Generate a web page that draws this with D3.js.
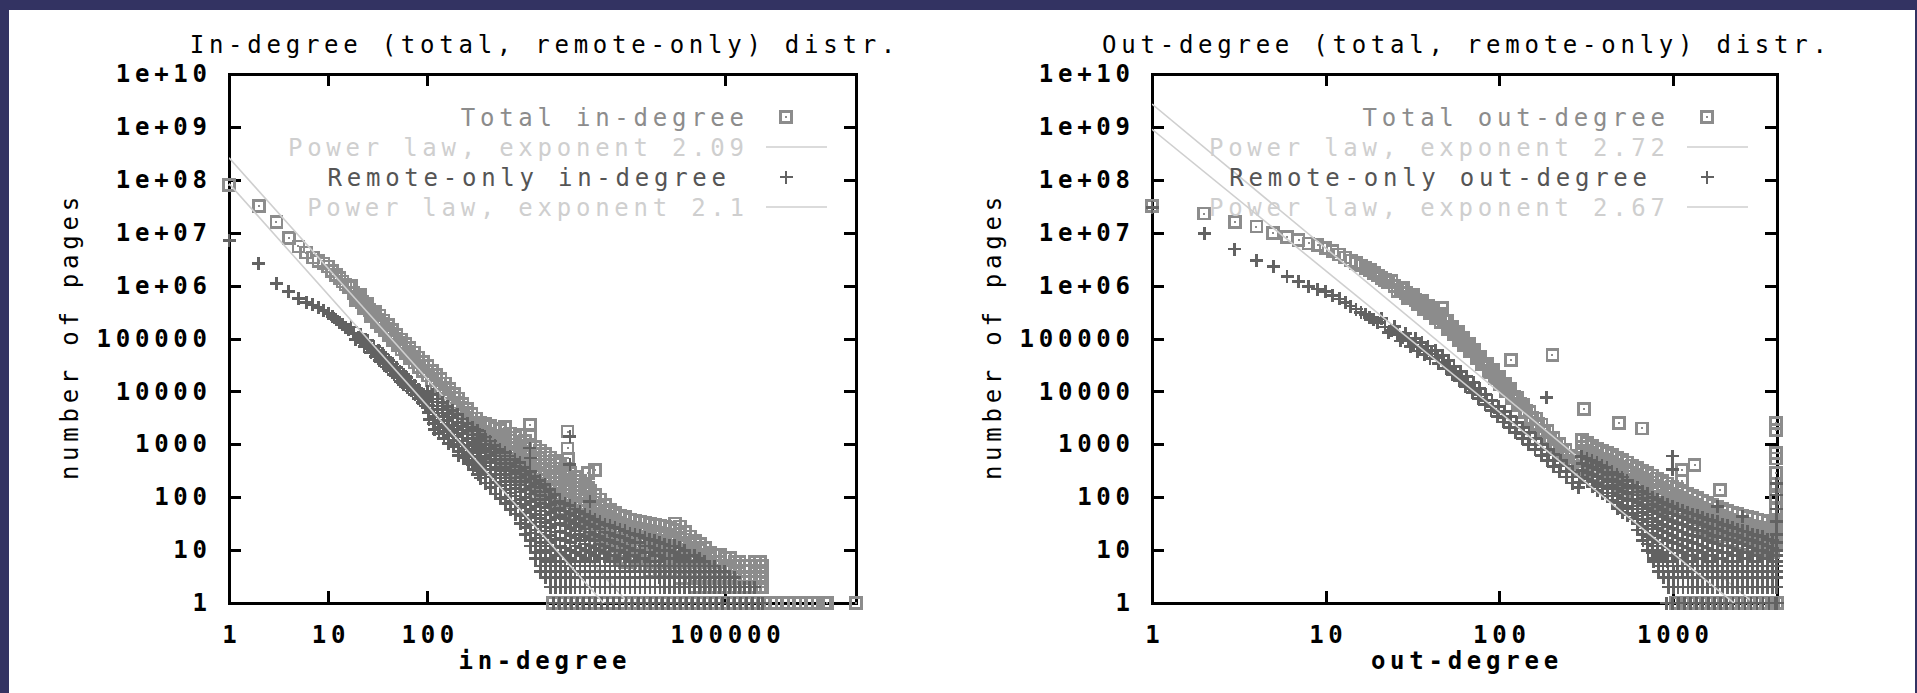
<!DOCTYPE html>
<html>
<head>
<meta charset="utf-8">
<script src="https://cdn.jsdelivr.net/npm/d3@7"></script>
<style>
  html, body { margin: 0; padding: 0; background: #333362; }
  svg { display: block; }
</style>
</head>
<body>
<svg id="chart" width="1917" height="693"></svg>
<script>
// ---------------------------------------------------------------------------
// Axis ticks
// ---------------------------------------------------------------------------
const yTickValues = [1, 10, 100, 1e3, 1e4, 1e5, 1e6, 1e7, 1e8, 1e9, 1e10];
const yTickLabels = ["1", "10", "100", "1000", "10000", "100000", "1e+06", "1e+07", "1e+08", "1e+09", "1e+10"];

const inDegreeLabelValues = [1, 10, 100, 100000];
const inDegreeLabels = ["1", "10", "100", "100000"];
const inDegreeTickMarks = [10, 100, 100000];

const outDegreeLabelValues = [1, 10, 100, 1000];
const outDegreeLabels = ["1", "10", "100", "1000"];
const outDegreeTickMarks = [10, 100, 1000];

// Data layout per series:
//   ridge / spread : [degree, pages]
//   columns        : [first degree, [pages for consecutive degrees]]
//   singles        : degrees held by exactly one page

// ---------------------------------------------------------------------------
// In-degree, total (boxes)
// ---------------------------------------------------------------------------
const inTotalRidge = [
  [1, 8.0e7], [2, 3.2e7], [3, 1.6e7], [4, 8.0e6], [5, 5.5e6], [6, 4.2e6], [7, 3.4e6],
  [8, 2.9e6], [9, 2.6e6], [10, 2.3e6], [11, 1.9e6], [12, 1.6e6], [13, 1.4e6], [14, 1.2e6],
  [15, 1.05e6], [16, 9.2e5], [18, 7.2e5], [20, 5.9e5], [22, 4.9e5], [24, 4.1e5], [26, 3.5e5],
  [29, 2.8e5], [32, 2.3e5], [35, 1.9e5], [39, 1.55e5], [43, 1.25e5], [48, 1.0e5], [53, 8.2e4],
  [59, 6.7e4], [65, 5.5e4], [72, 4.5e4], [80, 3.7e4], [89, 3.0e4], [99, 2.5e4], [110, 2.05e4],
  [122, 1.7e4], [135, 1.4e4], [150, 1.15e4], [166, 9.3e3], [184, 7.5e3], [204, 6.0e3],
  [226, 4.8e3], [250, 3.9e3], [277, 3.1e3], [307, 2.5e3]
];
const inTotalSpread = [
  [17, 1.0e6], [19, 5.3e5], [21, 6.6e5], [23, 3.7e5], [25, 4.6e5], [27, 2.6e5],
  [30, 3.2e5], [31, 2.05e5], [33, 2.7e5], [34, 1.7e5], [36, 2.2e5], [37, 1.43e5], [40, 1.8e5],
  [41, 1.15e5], [44, 1.46e5], [45, 9.4e4], [49, 1.17e5], [50, 7.5e4], [54, 9.6e4], [55, 6.2e4],
  [60, 7.9e4], [61, 5.2e4], [66, 6.6e4], [67, 4.3e4], [73, 5.4e4], [74, 3.5e4], [81, 4.4e4],
  [82, 2.9e4], [90, 3.6e4], [91, 2.4e4], [100, 3.0e4], [101, 2.0e4], [111, 2.45e4], [112, 1.6e4],
  [123, 2.05e4], [124, 1.35e4], [136, 1.7e4], [137, 1.1e4], [151, 1.4e4], [152, 9.2e3],
  [167, 1.12e4], [168, 7.4e3], [185, 9.0e3], [186, 6.0e3], [205, 7.3e3], [206, 4.8e3],
  [227, 5.8e3], [228, 3.9e3], [251, 4.7e3], [252, 3.15e3], [278, 3.75e3], [279, 2.5e3],
  [308, 3.05e3], [309, 2.03e3]
];
const inTotalColumns = [
  [340, [2600, 1900, 1400, 1000]], [382, [2400, 1750, 1280, 940]], [429, [2200, 1600, 1170, 850, 620]],
  [481, [2000, 1470, 1070, 780, 570]], [540, [1850, 1350, 990, 720, 530]],
  [607, [2100, 1500, 1100, 800, 580, 430]], [681, [1600, 1170, 850, 620, 450, 330]],
  [765, [1350, 990, 720, 530, 390, 280]], [859, [1500, 1100, 800, 580, 420, 310, 220]],
  [965, [1150, 840, 610, 450, 330, 240, 175]], [1084, [2300, 1500, 970, 630, 460, 340, 250, 180]],
  [1217, [900, 650, 480, 350, 250, 180, 130]], [1367, [760, 550, 400, 290, 210, 155, 110]],
  [1535, [650, 470, 340, 250, 180, 130, 95]], [1724, [560, 410, 300, 220, 160, 115, 85]],
  [1936, [480, 350, 250, 185, 135, 100, 72]], [2174, [420, 300, 220, 160, 115, 85, 60]],
  [2441, [340, 250, 180, 130, 95, 70, 50]], [2600, [1740, 840, 540, 245, 137]],
  [2742, [290, 210, 150, 110, 80, 58, 42]], [3079, [240, 175, 125, 90, 66, 48, 35]],
  [3458, [200, 145, 105, 75, 55, 40, 29]], [3883, [165, 120, 88, 64, 46, 34, 25]],
  [4170, [290, 150]], [4361, [135, 98, 72, 52, 38, 28, 20]], [4897, [330, 110, 80, 58, 42, 30, 22, 16]],
  [5500, [90, 65, 47, 34, 25, 18, 13]], [6176, [72, 52, 38, 28, 20, 15, 11]],
  [6936, [57, 42, 30, 22, 16, 12, 9]], [7789, [50, 37, 27, 20, 14, 10, 8]],
  [8747, [45, 33, 24, 17, 13, 9, 7]], [9823, [42, 30, 22, 16, 12, 9, 6]],
  [11030, [38, 28, 20, 15, 11, 8, 6]], [12390, [36, 26, 19, 14, 10, 7, 5]],
  [13910, [34, 25, 18, 13, 10, 7, 5]], [15620, [33, 24, 17, 13, 9, 7, 5]],
  [17540, [31, 23, 17, 12, 9, 6, 4]], [19700, [30, 22, 16, 12, 8, 6, 4]],
  [22120, [29, 21, 15, 11, 8, 6, 4]], [24840, [28, 20, 15, 11, 8, 6, 4]],
  [27900, [26, 19, 14, 10, 7, 5, 4]], [31330, [32, 24, 17, 12, 9, 6, 4]],
  [35180, [28, 20, 14, 10, 7, 5, 3]], [39510, [22, 16, 12, 9, 6, 4, 3]],
  [44370, [18, 13, 10, 7, 5, 4, 3]], [49830, [15, 11, 8, 6, 4, 3, 2]],
  [55960, [13, 10, 7, 5, 4, 3, 2]], [62840, [11, 8, 6, 4, 3, 2]], [70570, [9, 7, 5, 4, 3, 2]],
  [79250, [8, 6, 4, 3, 2]], [89000, [8, 6, 4, 3, 2]], [100000, [7, 5, 4, 3, 2]],
  [112000, [7, 5, 4, 3, 2]], [126000, [6, 5, 4, 3, 2]], [141000, [6, 4, 3, 2]],
  [159000, [5, 4, 3, 2]], [178000, [5, 4, 3, 2]], [200000, [6, 4, 3, 2]], [225000, [6, 4, 3, 2]],
  [240000, [5, 3, 2]]
];
const inTotalSingles = [
  1850, 2120, 2460, 2810, 3240, 3740, 4290, 4960, 5680, 6570, 7530, 8690, 9980, 11500, 13300,
  15200, 17600, 20100, 23200, 26500, 30700, 35100, 40600, 46500, 53800, 61400, 71100, 81300,
  93900, 107500, 124200, 142300, 164400, 188100, 217300, 248800, 287500, 329100, 380200,
  435300, 502800, 575600, 664900, 761200, 878700, 1006000, 1071000, 2100000
];

// ---------------------------------------------------------------------------
// In-degree, remote-only (crosses)
// ---------------------------------------------------------------------------
const inRemoteRidge = [
  [1, 7.0e6], [2, 2.6e6], [3, 1.1e6], [4, 7.8e5], [5, 5.8e5], [6, 4.8e5], [7, 4.3e5], [8, 3.9e5],
  [9, 3.4e5], [10, 3.0e5], [11, 2.6e5], [12, 2.3e5], [13, 2.0e5], [14, 1.8e5], [15, 1.6e5],
  [16, 1.45e5], [18, 1.25e5], [20, 1.05e5], [22, 9.0e4], [24, 8.0e4], [26, 7.0e4], [28, 6.2e4],
  [31, 5.3e4], [34, 4.6e4], [37, 3.8e4], [40, 3.3e4], [43, 2.9e4], [47, 2.5e4], [51, 2.15e4],
  [55, 1.85e4], [60, 1.6e4], [66, 1.35e4], [72, 1.13e4], [78, 9.6e3], [85, 8.1e3], [93, 6.8e3]
];
const inRemoteSpread = [
  [17, 1.65e5], [19, 9.5e4], [21, 1.2e5], [23, 7.0e4], [25, 9.1e4], [27, 5.4e4], [29, 7.0e4],
  [30, 4.5e4], [32, 6.0e4], [33, 3.9e4], [35, 5.1e4], [36, 3.4e4], [38, 4.4e4], [39, 2.9e4],
  [41, 3.8e4], [42, 2.5e4], [45, 3.3e4], [46, 2.1e4], [49, 2.8e4], [50, 1.8e4], [53, 2.4e4],
  [54, 1.55e4], [57, 2.1e4], [58, 1.35e4], [62, 1.85e4], [63, 1.2e4], [68, 1.55e4], [69, 1.02e4],
  [74, 1.3e4], [75, 8.6e3], [81, 1.1e4], [82, 7.3e3], [88, 9.3e3], [89, 6.2e3], [95, 7.8e3],
  [96, 5.3e3]
];
const inRemoteColumns = [
  [100, [1.0e4, 7.4e3, 5.4e3, 4.0e3, 2.9e3]], [112, [8.6e3, 6.3e3, 4.6e3, 3.4e3, 2.5e3, 1.9e3]],
  [126, [7.2e3, 5.3e3, 3.9e3, 2.8e3, 2.1e3, 1.6e3]], [142, [6.1e3, 4.5e3, 3.3e3, 2.4e3, 1.75e3, 1.3e3]],
  [159, [5.2e3, 3.8e3, 2.8e3, 2.0e3, 1.45e3, 1.05e3]], [178, [4.4e3, 3.2e3, 2.3e3, 1.7e3, 1.2e3, 900]],
  [200, [3.6e3, 2.6e3, 1.9e3, 1.4e3, 1.0e3, 740, 620]], [225, [3.0e3, 2.2e3, 1.6e3, 1.15e3, 840, 610, 560]],
  [252, [2.5e3, 1.8e3, 1.3e3, 960, 700, 500, 430]], [283, [2.1e3, 1.5e3, 1.1e3, 800, 580, 420, 330]],
  [318, [1.8e3, 1.3e3, 950, 690, 500, 360, 270]],
  [340, [1550, 1150, 830, 600, 440, 320, 230]], [382, [1380, 1000, 730, 530, 390, 280, 185]],
  [429, [1150, 840, 610, 450, 330, 240, 150]], [481, [950, 700, 510, 370, 270, 190, 115]],
  [540, [810, 600, 440, 320, 230, 165, 95]], [607, [690, 510, 370, 270, 195, 140, 100, 75]],
  [681, [600, 440, 320, 230, 170, 120, 85, 58]], [765, [520, 380, 280, 200, 145, 105, 75, 48]],
  [859, [450, 320, 235, 170, 125, 90, 64, 45, 32]], [965, [370, 270, 195, 140, 100, 72, 52, 37, 27, 20]],
  [1084, [850, 550, 310, 220, 160, 115, 82, 58, 42, 30, 21, 15, 12]],
  [1217, [250, 180, 130, 92, 66, 47, 34, 24, 17, 12, 9, 7]],
  [1367, [210, 150, 108, 77, 55, 40, 28, 20, 14, 10, 7, 5, 4]],
  [1535, [175, 125, 90, 64, 46, 33, 23, 17, 12, 9, 6, 4, 3]],
  [1724, [140, 100, 72, 52, 37, 27, 19, 14, 10, 7, 5, 4, 3, 2]],
  [1936, [112, 80, 58, 42, 30, 22, 16, 11, 8, 6, 4, 3, 2]],
  [2174, [85, 62, 45, 32, 23, 17, 12, 9, 6, 5, 4, 3, 2]],
  [2441, [76, 55, 40, 29, 21, 15, 11, 8, 6, 4, 3, 2]],
  [2742, [1400, 410, 70, 50, 36, 26, 19, 14, 10, 7, 5, 4, 3, 2]],
  [3079, [60, 44, 32, 23, 17, 12, 9, 6, 5, 3, 2]], [3458, [54, 39, 28, 20, 15, 11, 8, 6, 4, 3, 2]],
  [3883, [48, 35, 25, 18, 13, 10, 7, 5, 4, 3, 2]], [4361, [82, 43, 31, 22, 16, 12, 9, 6, 5, 3, 2]],
  [4897, [38, 28, 20, 15, 11, 8, 6, 4, 3, 2]], [5500, [34, 25, 18, 13, 10, 7, 5, 4, 3, 2]],
  [6176, [31, 22, 16, 12, 9, 7, 5, 4, 3, 2]], [6936, [29, 21, 15, 11, 8, 6, 5, 4, 3, 2]],
  [7789, [27, 19, 14, 10, 8, 6, 4, 3, 2]], [8747, [25, 18, 13, 10, 7, 5, 4, 3, 2]],
  [9823, [23, 17, 12, 9, 7, 5, 4, 3, 2]], [11030, [21, 15, 11, 8, 6, 5, 4, 3, 2]],
  [12390, [20, 14, 10, 8, 6, 4, 3, 2]], [13910, [19, 14, 10, 7, 5, 4, 3, 2]],
  [15620, [17, 12, 9, 7, 5, 4, 3, 2]], [17540, [16, 12, 9, 6, 5, 4, 3, 2]],
  [19700, [15, 11, 8, 6, 5, 4, 3, 2]], [22120, [14, 10, 8, 6, 4, 3, 2]],
  [24840, [13, 10, 7, 5, 4, 3, 2]], [27900, [12, 10, 7, 5, 4, 3, 2]],
  [31330, [12, 9, 7, 5, 4, 3, 2]], [35180, [11, 8, 6, 4, 3, 2]], [39510, [10, 7, 5, 4, 3, 2]],
  [44370, [8, 6, 5, 4, 3, 2]], [49830, [8, 6, 4, 3, 2]], [55960, [7, 5, 4, 3, 2]],
  [62840, [6, 5, 4, 3, 2]], [70570, [5, 4, 3, 2]], [79250, [5, 4, 3, 2]], [89000, [4, 3, 2]],
  [100000, [4, 3, 2]], [112000, [3, 2]], [126000, [3, 2]], [141000, [2]], [159000, [2]],
  [178000, [2]], [200000, [2]]
];
const inRemoteSingles = [
  1870, 2150, 2480, 2840, 3270, 3770, 4330, 4990, 5730, 6610, 7580, 8740, 10050, 11580, 13350,
  15300, 17700, 20300, 23400, 26800, 30900, 35500, 40900, 47000, 54200, 62000, 71700, 82100,
  94700, 108600, 125400, 143700, 165900, 190100, 219400, 241000
];

// ---------------------------------------------------------------------------
// Out-degree, total (boxes)
// ---------------------------------------------------------------------------
const outTotalRidge = [
  [1, 3.2e7], [2, 2.3e7], [3, 1.6e7], [4, 1.3e7], [5, 1.0e7], [6, 8.3e6], [7, 7.2e6], [8, 6.3e6],
  [9, 5.8e6], [10, 5.2e6], [11, 4.5e6], [12, 3.9e6], [13, 3.4e6], [14, 3.0e6], [15, 2.7e6],
  [16, 2.4e6], [17, 2.15e6], [18, 1.95e6], [19, 1.75e6], [20, 1.55e6], [21, 1.4e6], [22, 1.28e6],
  [23, 1.17e6], [25, 9.8e5], [27, 8.4e5], [29, 7.2e5], [31, 6.2e5], [33, 5.4e5], [35, 4.7e5],
  [38, 3.9e5], [41, 3.2e5], [44, 2.65e5], [48, 2.1e5], [52, 1.65e5], [56, 1.3e5], [60, 1.0e5],
  [65, 7.7e4], [70, 5.9e4], [76, 4.4e4], [82, 3.3e4], [89, 2.5e4], [96, 1.85e4], [104, 1.4e4],
  [113, 1.05e4], [122, 7.8e3], [132, 5.8e3], [143, 4.3e3], [155, 3.2e3], [168, 2.4e3],
  [182, 1.8e3], [197, 1.35e3], [213, 1.0e3], [231, 780], [250, 600], [271, 470], [293, 370]
];
const outTotalSpread = [
  [24, 1.23e6], [26, 7.9e5], [28, 9.0e5], [30, 5.8e5], [32, 6.7e5], [34, 4.4e5], [36, 5.1e5],
  [37, 3.6e5], [39, 4.2e5], [40, 3.0e5], [42, 3.45e5], [43, 2.45e5], [45, 2.9e5], [46, 2.05e5],
  [47, 3.8e5], [50, 2.15e5], [51, 1.53e5], [54, 1.68e5], [55, 1.2e5], [58, 1.31e5], [59, 9.3e4],
  [62, 1.04e5], [63, 7.4e4], [67, 8.1e4], [68, 5.7e4], [72, 6.1e4], [74, 4.2e4], [78, 4.6e4],
  [80, 3.2e4], [85, 3.35e4], [87, 2.35e4], [92, 2.55e4], [94, 1.8e4], [100, 1.85e4], [101, 1.36e4],
  [108, 1.4e4], [110, 1.0e4], [116, 1.1e4], [117, 3.9e4], [119, 7.6e3], [127, 7.7e3],
  [129, 5.4e3], [138, 5.6e3], [140, 4.0e3], [150, 4.1e3], [152, 3.0e3], [163, 3.05e3],
  [165, 2.2e3], [176, 2.35e3], [178, 1.7e3], [190, 1.78e3], [193, 1.26e3], [203, 4.9e4],
  [206, 1.32e3], [209, 940], [223, 1.0e3], [226, 720], [241, 780], [244, 560], [261, 610],
  [264, 445], [283, 470], [286, 345], [308, 4600]
];
const outTotalColumns = [
  [300, [1200, 880, 650, 480, 350]], [321, [1050, 770, 570, 420, 310]], [343, [920, 680, 500, 370, 270]],
  [367, [820, 600, 440, 330, 240]], [392, [740, 540, 400, 290, 215]], [419, [680, 500, 370, 270, 200]],
  [448, [620, 460, 340, 250, 180]], [479, [560, 410, 300, 220, 165]], [490, [2500]],
  [512, [500, 370, 270, 200, 150]], [547, [450, 330, 245, 180, 130]], [585, [400, 295, 215, 160, 118]],
  [625, [360, 265, 195, 145, 105]], [665, [2000]], [668, [320, 235, 175, 128, 95]],
  [714, [285, 210, 155, 115, 85]], [763, [255, 188, 138, 100, 75]], [816, [225, 165, 122, 90, 66]],
  [872, [200, 148, 108, 80, 59]], [932, [180, 132, 97, 72, 53]], [996, [160, 118, 87, 64, 47]],
  [1065, [145, 107, 79, 58, 43]], [1130, [330, 200]], [1138, [130, 96, 71, 52, 38]],
  [1217, [118, 87, 64, 47, 35]], [1300, [106, 78, 57, 42, 31]], [1340, [410]],
  [1390, [96, 71, 52, 38, 28]], [1486, [87, 64, 47, 35, 26]], [1588, [79, 58, 43, 31, 23]],
  [1698, [72, 53, 39, 29, 21]], [1815, [66, 48, 36, 26, 19]], [1880, [137]],
  [1940, [60, 44, 33, 24, 18]], [2074, [55, 41, 30, 22, 16]], [2217, [51, 38, 28, 20, 15]],
  [2370, [48, 35, 26, 19, 14]], [2533, [45, 33, 24, 18, 13]], [2708, [42, 31, 23, 17, 12]],
  [2895, [40, 29, 22, 16, 12]], [3094, [38, 28, 20, 15, 11]], [3308, [36, 26, 19, 14, 10]],
  [3536, [34, 25, 18, 13, 10]], [3780, [32, 24, 17, 13, 9]],
  [3950, [2500, 1860, 680, 540, 290, 180, 100, 60, 35, 22, 14]]
];
const outTotalSingles = [
  1050, 1140, 1236, 1338, 1452, 1571, 1702, 1843, 1997, 2163, 2342, 2537, 2748, 2976, 3224,
  3491, 3781, 3990
];

// ---------------------------------------------------------------------------
// Out-degree, remote-only (crosses)
// ---------------------------------------------------------------------------
const outRemoteRidge = [
  [1, 3.0e7], [2, 9.8e6], [3, 4.9e6], [4, 3.0e6], [5, 2.3e6], [6, 1.5e6], [7, 1.2e6], [8, 9.6e5],
  [9, 8.6e5], [10, 7.7e5], [11, 6.5e5], [12, 5.6e5], [13, 4.8e5], [14, 4.1e5], [15, 3.6e5],
  [16, 3.15e5], [17, 2.8e5], [18, 2.5e5], [19, 2.25e5], [20, 2.0e5], [22, 1.65e5], [24, 1.4e5],
  [26, 1.2e5], [28, 1.05e5], [30, 9.2e4], [32, 8.2e4], [35, 7.0e4], [38, 6.0e4], [41, 5.1e4],
  [44, 4.3e4], [48, 3.5e4], [52, 2.85e4], [56, 2.3e4], [61, 1.8e4], [66, 1.42e4], [72, 1.1e4],
  [78, 8.6e3], [85, 6.7e3], [92, 5.2e3], [100, 4.0e3], [108, 3.2e3], [117, 2.55e3], [127, 2.05e3],
  [138, 1.62e3], [150, 1.28e3], [163, 1.0e3], [177, 800], [192, 640], [209, 500], [227, 400],
  [246, 310], [267, 240], [290, 190]
];
const outRemoteSpread = [
  [21, 2.4e5], [23, 1.3e5], [25, 1.7e5], [27, 9.0e4], [29, 1.25e5], [31, 7.0e4], [33, 1.0e5],
  [34, 5.8e4], [36, 8.4e4], [37, 5.0e4], [39, 7.2e4], [40, 4.2e4], [43, 5.9e4], [45, 3.4e4],
  [47, 4.7e4], [50, 2.7e4], [51, 3.8e4], [54, 2.1e4], [55, 3.0e4], [59, 1.6e4], [60, 2.4e4],
  [64, 1.25e4], [65, 1.9e4], [70, 9.5e3], [71, 1.45e4], [76, 7.4e3], [77, 1.12e4], [83, 5.6e3],
  [84, 8.6e3], [90, 4.4e3], [91, 6.7e3], [98, 3.4e3], [99, 5.2e3], [106, 2.65e3], [107, 4.1e3],
  [115, 2.1e3], [116, 3.3e3], [125, 1.65e3], [126, 2.6e3], [136, 1.3e3], [137, 2.1e3],
  [148, 1.0e3], [149, 1.65e3], [161, 800], [162, 1.3e3], [175, 620], [176, 1.0e3], [188, 7800],
  [190, 490], [191, 800], [206, 380], [207, 640], [224, 300], [225, 500], [244, 240], [245, 390],
  [265, 185], [266, 300], [288, 150], [289, 240]
];
const outRemoteColumns = [
  [300, [580, 430, 320, 240]], [321, [540, 400, 295, 220]], [343, [500, 370, 270, 200, 160]],
  [367, [450, 330, 245, 180, 135]], [392, [400, 300, 220, 160, 120]], [419, [360, 265, 195, 145, 105]],
  [448, [300, 220, 165, 120, 88]], [479, [270, 200, 145, 108, 80, 62]],
  [512, [240, 175, 130, 95, 70, 52]], [547, [210, 155, 115, 85, 62, 46]],
  [585, [170, 125, 92, 68, 50, 40]], [625, [150, 110, 80, 60, 44, 32, 24]],
  [668, [130, 95, 70, 52, 38, 28, 20, 15]], [714, [115, 85, 62, 46, 34, 25, 18, 13, 10]],
  [763, [100, 74, 54, 40, 29, 21, 16, 12, 9, 7, 6]], [816, [90, 66, 48, 35, 26, 19, 14, 10, 8, 6, 5, 4]],
  [872, [80, 58, 43, 31, 23, 17, 12, 9, 7, 5, 4, 3]], [932, [72, 52, 38, 28, 21, 15, 11, 8, 6, 5, 4, 3, 2]],
  [996, [600, 330, 66, 48, 35, 26, 19, 14, 10, 8, 6, 5, 4, 3, 2]],
  [1065, [60, 44, 32, 24, 17, 13, 10, 7, 5, 4, 3, 2]], [1138, [56, 41, 30, 22, 16, 12, 9, 7, 5, 4, 3, 2]],
  [1217, [52, 38, 28, 20, 15, 11, 8, 6, 5, 4, 3, 2]], [1300, [48, 35, 26, 19, 14, 10, 8, 6, 4, 3, 2]],
  [1390, [45, 33, 24, 18, 13, 10, 7, 5, 4, 3, 2]], [1486, [42, 31, 23, 17, 12, 9, 7, 5, 4, 3, 2]],
  [1588, [38, 28, 21, 15, 11, 8, 6, 5, 4, 3, 2]], [1698, [36, 26, 19, 14, 10, 8, 6, 4, 3, 2]],
  [1815, [66, 34, 25, 18, 13, 10, 7, 5, 4, 3, 2]], [1940, [31, 23, 17, 12, 9, 7, 5, 4, 3, 2]],
  [2074, [29, 21, 16, 12, 9, 6, 5, 4, 3, 2]], [2217, [27, 20, 15, 11, 8, 6, 5, 4, 3, 2]],
  [2370, [25, 19, 14, 10, 8, 6, 4, 3, 2]], [2533, [43, 23, 17, 13, 9, 7, 5, 4, 3, 2]],
  [2708, [22, 16, 12, 9, 7, 5, 4, 3, 2]], [2895, [20, 15, 11, 8, 6, 5, 4, 3, 2]],
  [3094, [19, 14, 10, 8, 6, 4, 3, 2]], [3308, [18, 13, 10, 7, 5, 4, 3, 2]],
  [3536, [16, 12, 9, 7, 5, 4, 3, 2]], [3780, [15, 11, 8, 6, 5, 4, 3, 2]],
  [3965, [180, 110, 60, 35, 20, 14, 10, 8, 6, 5, 4, 3, 2]]
];
const outRemoteSingles = [
  925, 1002, 1086, 1176, 1273, 1380, 1494, 1619, 1753, 1899, 2057, 2228, 2413, 2614, 2831,
  3066, 3321, 3597, 3896, 4000
];

// Power-law fits: pages = amplitude * degree^(-exponent)
const inFitAmplitude = [2.6e8, 8.5e7];
const inFitExponent = [2.09, 2.1];
const outFitAmplitude = [2.7e9, 9.0e8];
const outFitExponent = [2.72, 2.67];

const inLegend = ["Total in-degree", "Power law, exponent 2.09", "Remote-only in-degree", "Power law, exponent 2.1"];
const outLegend = ["Total out-degree", "Power law, exponent 2.72", "Remote-only out-degree", "Power law, exponent 2.67"];

// ---------------------------------------------------------------------------
// Drawing
// ---------------------------------------------------------------------------
const FONT = "'DejaVu Sans Mono', 'Liberation Mono', monospace";
const FS = 24;
const PITCH = 19.2;
const ADV = FS * 0.602;
const TICK = 12;
const BOX_COLOR = "#8c8c8c";
const CROSS_COLOR = "#626262";
const FIT_COLOR = "#cfcfcf";

const svg = d3.select("#chart");
svg.append("rect").attr("width", 1917).attr("height", 693).attr("fill", "#333362");
svg.append("rect").attr("x", 9).attr("y", 10).attr("width", 1906).attr("height", 683).attr("fill", "#ffffff");

function styleText(sel, opts = {}) {
  const { weight = "normal", color = "#000" } = opts;
  sel.attr("font-family", FONT).attr("font-size", FS).attr("font-weight", weight).attr("fill", color);
  sel.each(function () {
    const t = d3.select(this);
    const s = t.text();
    if (s.length > 1) t.attr("textLength", (s.length - 1) * PITCH + ADV).attr("lengthAdjust", "spacing");
  });
}

function expand(ridge, spread, columns, singles) {
  const pts = ridge.concat(spread).map(([d, c]) => ({ d, c }));
  columns.forEach(([start, counts]) => counts.forEach((c, i) => pts.push({ d: start + i, c })));
  singles.forEach(d => pts.push({ d, c: 1 }));
  return pts;
}

function drawPanel(p) {
  const x = d3.scaleLog().domain(p.xDomain).range([p.left, p.right]);
  const y = d3.scaleLog().domain([1, 1e10]).range([p.bottom, p.top]);
  const g = svg.append("g");

  const clipId = "plot-clip-" + p.id;
  svg.append("clipPath").attr("id", clipId)
    .append("rect").attr("x", p.left).attr("y", p.top)
    .attr("width", p.right - p.left).attr("height", p.bottom - p.top);

  // tick marks on all four sides, pointing inward
  const tickStyle = s => {
    s.select(".domain").remove();
    s.selectAll("line").attr("stroke", "#000").attr("stroke-width", 3).attr("shape-rendering", "crispEdges");
  };
  g.append("g").attr("transform", `translate(${p.left},0)`)
    .call(d3.axisLeft(y).tickValues(yTickValues).tickFormat((d, i) => yTickLabels[i])
      .tickSizeInner(-TICK).tickSizeOuter(0).tickPadding(22))
    .call(tickStyle)
    .call(s => s.selectAll("text").call(styleText, { weight: "bold" }));
  g.append("g").attr("transform", `translate(${p.right},0)`)
    .call(d3.axisRight(y).tickValues(yTickValues).tickFormat("").tickSizeInner(-TICK).tickSizeOuter(0))
    .call(tickStyle);
  g.append("g").attr("transform", `translate(0,${p.bottom})`)
    .call(d3.axisBottom(x).tickValues(p.tickMarks).tickFormat("").tickSizeInner(-TICK).tickSizeOuter(0))
    .call(tickStyle);
  g.append("g").attr("transform", `translate(0,${p.top})`)
    .call(d3.axisTop(x).tickValues(p.tickMarks).tickFormat("").tickSizeInner(-TICK).tickSizeOuter(0))
    .call(tickStyle);
  g.append("g").attr("transform", `translate(0,${p.bottom})`)
    .call(d3.axisBottom(x).tickValues(p.labelValues).tickFormat((d, i) => p.labels[i]).tickSize(0).tickPadding(23))
    .call(s => s.select(".domain").remove())
    .call(s => s.selectAll("text").call(styleText, { weight: "bold" }));

  // frame
  g.append("rect").attr("x", p.left).attr("y", p.top)
    .attr("width", p.right - p.left).attr("height", p.bottom - p.top)
    .attr("fill", "none").attr("stroke", "#000").attr("stroke-width", 3)
    .attr("shape-rendering", "crispEdges");

  // titles
  const cx = (p.left + p.right) / 2;
  g.append("text").attr("x", cx).attr("y", 53).attr("text-anchor", "middle").text(p.title).call(styleText);
  g.append("text").attr("x", cx).attr("y", 669).attr("text-anchor", "middle").text(p.xTitle)
    .call(styleText, { weight: "bold" });
  g.append("text").attr("transform", `translate(${p.left - 151},${(p.top + p.bottom) / 2}) rotate(-90)`)
    .attr("text-anchor", "middle").text("number of pages").call(styleText);

  const line = d3.line().x(d => x(d.d)).y(d => y(d.c));
  const legendRows = [117, 147, 177, 207];

  function drawBoxes(pts) {
    const m = g.append("g").attr("shape-rendering", "crispEdges");
    m.append("g").attr("fill", "none").attr("stroke", BOX_COLOR).attr("stroke-width", 2.6)
      .selectAll("rect").data(pts).join("rect")
      .attr("x", d => x(d.d) - 5.5).attr("y", d => y(d.c) - 5.5).attr("width", 11).attr("height", 11);
    m.append("g").attr("fill", BOX_COLOR)
      .selectAll("rect").data(pts).join("rect")
      .attr("x", d => x(d.d) - 1).attr("y", d => y(d.c) - 1).attr("width", 2).attr("height", 2);
  }
  function drawCrosses(pts) {
    g.append("g").attr("fill", "none").attr("stroke", CROSS_COLOR).attr("stroke-width", 2.8)
      .attr("shape-rendering", "crispEdges")
      .selectAll("path").data(pts).join("path")
      .attr("d", d => {
        const X = x(d.d), Y = y(d.c);
        return `M${X - 6.5},${Y}h13M${X},${Y - 6.5}v13`;
      });
  }
  function drawFit(A, k) {
    const pts = p.xDomain.map(d => ({ d, c: A * Math.pow(d, -k) }));
    g.append("path").datum(pts).attr("d", line).attr("clip-path", `url(#${clipId})`)
      .attr("fill", "none").attr("stroke", FIT_COLOR).attr("stroke-width", 1.6);
  }
  function legendText(row, label, color, endX) {
    g.append("text").attr("x", endX).attr("y", legendRows[row] + 8.5).attr("text-anchor", "end")
      .text(label).call(styleText, { color });
  }
  function legendLine(row) {
    g.append("line").attr("x1", p.right - 90).attr("x2", p.right - 29)
      .attr("y1", legendRows[row]).attr("y2", legendRows[row])
      .attr("stroke", FIT_COLOR).attr("stroke-width", 1.6);
  }

  // total: boxes and its fit
  drawBoxes(p.total);
  legendText(0, p.legend[0], BOX_COLOR, p.right - 112);
  drawBoxes([{ d: x.invert(p.right - 70), c: y.invert(legendRows[0]) }]);
  drawFit(p.fitA[0], p.fitK[0]);
  legendText(1, p.legend[1], FIT_COLOR, p.right - 112);
  legendLine(1);

  // remote-only: crosses and its fit
  drawCrosses(p.remote);
  legendText(2, p.legend[2], "#555555", p.right - 130);
  drawCrosses([{ d: x.invert(p.right - 70), c: y.invert(legendRows[2]) }]);
  drawFit(p.fitA[1], p.fitK[1]);
  legendText(3, p.legend[3], FIT_COLOR, p.right - 112);
  legendLine(3);
}

drawPanel({
  id: "in", left: 229, right: 856, top: 74, bottom: 603,
  xDomain: [1, 2.1e6],
  labelValues: inDegreeLabelValues, labels: inDegreeLabels, tickMarks: inDegreeTickMarks,
  title: "In-degree (total, remote-only) distr.", xTitle: "in-degree",
  total: expand(inTotalRidge, inTotalSpread, inTotalColumns, inTotalSingles),
  remote: expand(inRemoteRidge, inRemoteSpread, inRemoteColumns, inRemoteSingles),
  fitA: inFitAmplitude, fitK: inFitExponent, legend: inLegend
});

drawPanel({
  id: "out", left: 1152, right: 1777, top: 74, bottom: 603,
  xDomain: [1, 4000],
  labelValues: outDegreeLabelValues, labels: outDegreeLabels, tickMarks: outDegreeTickMarks,
  title: "Out-degree (total, remote-only) distr.", xTitle: "out-degree",
  total: expand(outTotalRidge, outTotalSpread, outTotalColumns, outTotalSingles),
  remote: expand(outRemoteRidge, outRemoteSpread, outRemoteColumns, outRemoteSingles),
  fitA: outFitAmplitude, fitK: outFitExponent, legend: outLegend
});
</script>
</body>
</html>
